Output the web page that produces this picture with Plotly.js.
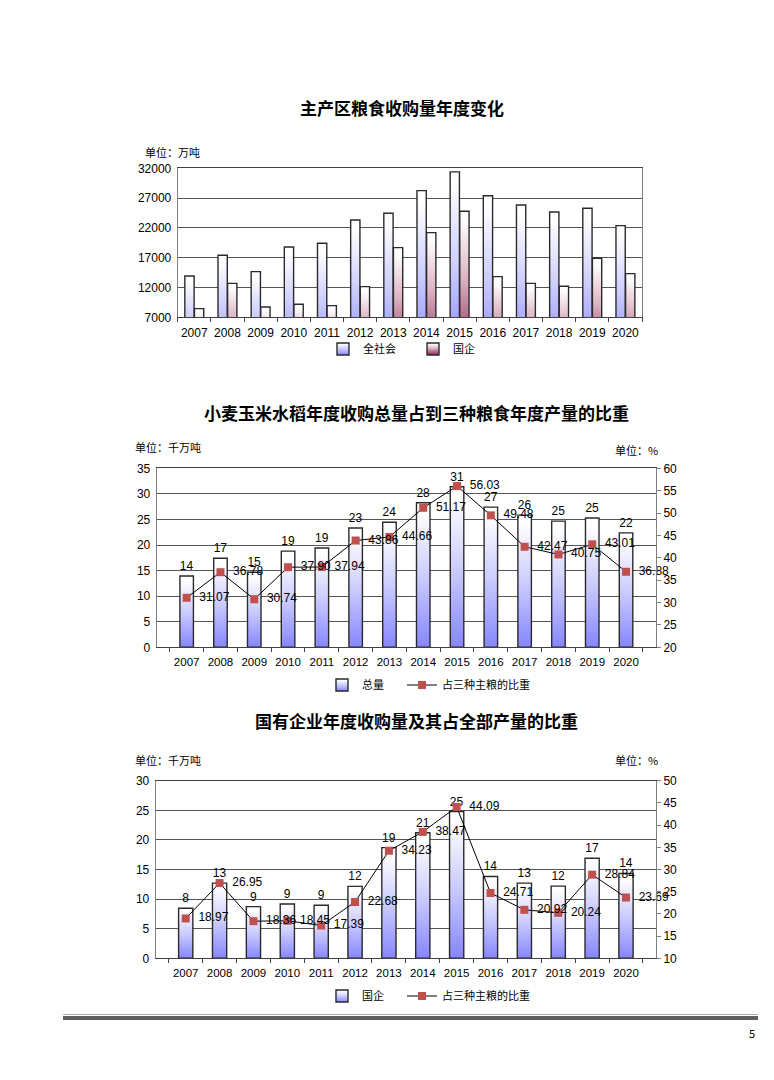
<!DOCTYPE html>
<html><head><meta charset="utf-8">
<script src="https://cdn.plot.ly/plotly-3.0.1.min.js"></script>
<style>html,body{margin:0;padding:0;background:#fff;}#chart{width:774px;height:1080px;}</style>
</head><body><div id="chart"></div>
<script>
// ---- data ----
const years = ['2007','2008','2009','2010','2011','2012','2013','2014','2015','2016','2017','2018','2019','2020'];
// 主产区粮食收购量 (万吨)
const totalAll   = [13940,17400,14660,18800,19420,23330,24450,28250,31400,27400,25850,24670,25290,22380];
const stateOwned = [8450,12700,8730,9180,8960,12150,18690,21210,24790,13820,12700,12200,16900,14330];
// 占三种主粮的比重 (%)
const totalShare = [31.07,36.78,30.74,37.90,37.94,43.86,44.66,51.17,56.03,49.48,42.47,40.75,43.01,36.88];
const stateShare = [18.97,26.95,18.36,18.45,17.39,22.68,34.23,38.47,44.09,24.71,20.92,20.24,28.84,23.69];

const W = 774, H = 1080;
const X = p => p / W, Y = p => 1 - p / H;
const NUM = 'Liberation Sans, Arial, Noto Sans CJK SC, sans-serif';
const CJK = 'Noto Sans CJK SC, Liberation Sans, sans-serif';
const toK = a => a.map(v => v / 1000);
const PAD = '\u00a0\u00a0';

const barLine = {color: '#2a2a2a', width: 1.4};
const data = [
  {type:'bar', x: years, y: totalAll, name:'全社会', xaxis:'x', yaxis:'y', legend:'legend',
   offset:-0.285, width:0.28, marker:{color:'#9a9aff', line: barLine}, hoverinfo:'skip'},
  {type:'bar', x: years, y: stateOwned, name:'国企', xaxis:'x', yaxis:'y', legend:'legend5',
   offset:0.005, width:0.28, marker:{color:'#963060', line: barLine}, hoverinfo:'skip'},
  {type:'bar', x: years, y: toK(totalAll), name:'总量', xaxis:'x2', yaxis:'y2', legend:'legend2',
   width:0.4, marker:{color:'#9a9aff', line: barLine}, texttemplate:'%{y:.0f}', textposition:'outside',
   constraintext:'none', cliponaxis:false, textfont:{family:NUM, size:12, color:'#000'}, hoverinfo:'skip'},
  {type:'scatter', x: years, y: totalShare, name:'占三种主粮的比重', xaxis:'x2', yaxis:'y3', legend:'legend4',
   mode:'lines+markers+text', text: totalShare.map(v => PAD + v.toFixed(2)), textposition:'middle right',
   textfont:{family:NUM, size:12, color:'#000'}, cliponaxis:false,
   line:{color:'#000', width:1}, marker:{symbol:'square', size:8, color:'#c0504d'}, hoverinfo:'skip'},
  {type:'bar', x: years, y: toK(stateOwned), name:'国企', xaxis:'x3', yaxis:'y4', legend:'legend3',
   width:0.42, marker:{color:'#9a9aff', line: barLine}, texttemplate:'%{y:.0f}', textposition:'outside',
   constraintext:'none', cliponaxis:false, textfont:{family:NUM, size:12, color:'#000'}, hoverinfo:'skip'},
  {type:'scatter', x: years, y: stateShare, name:'占三种主粮的比重', xaxis:'x3', yaxis:'y5', legend:'legend6',
   mode:'lines+markers+text', text: stateShare.map(v => PAD + v.toFixed(2)), textposition:'middle right',
   textfont:{family:NUM, size:12, color:'#000'}, cliponaxis:false,
   line:{color:'#000', width:1}, marker:{symbol:'square', size:8, color:'#c0504d'}, hoverinfo:'skip'}
];

function xax(d0, d1, anchor, fs) {
  return {domain:[X(d0), X(d1)], anchor: anchor, type:'category', showgrid:false, showline:true,
    linecolor:'#404040', linewidth:1, mirror:true, ticks:'outside', ticklen:4, tickcolor:'#404040',
    tickson:'boundaries', tickangle:0, ticklabelstandoff:4, tickfont:{family:NUM, size:fs, color:'#000'}, fixedrange:true, zeroline:false};
}
function yax(top, bot, anchor, range, dtick, mirror) {
  return {domain:[Y(bot), Y(top)], anchor: anchor, range: range, dtick: dtick, tick0: range[0],
    showgrid:true, gridcolor:'#555', gridwidth:1, showline:true, linecolor:'#808080', mirror: !!mirror,
    tickformat:'d', exponentformat:'none', separatethousands:false,
    ticks:'', tickfont:{family:NUM, size:12, color:'#000'}, zeroline:false, fixedrange:true, ticklabelstandoff:3};
}
function yright(top, bot, overlay, anchor, range) {
  return {domain:[Y(bot), Y(top)], overlaying: overlay, anchor: anchor, side:'right', range: range, dtick:5, tick0: range[0],
    showgrid:false, showline:true, linecolor:'#808080', ticks:'outside', ticklen:4, tickcolor:'#808080',
    tickfont:{family:NUM, size:12, color:'#000'}, zeroline:false, fixedrange:true};
}

const ann = (x, y, text, size, xanchor, bold) => ({xref:'paper', yref:'paper', x: X(x), y: Y(y), text: bold ? '<b>'+text+'</b>' : text,
  showarrow:false, xanchor: xanchor, yanchor:'middle', font:{family:CJK, size:size, color:'#000'}});

const legendBase = {orientation:'h', xanchor:'left', yanchor:'middle', font:{family:CJK, size:11, color:'#000'},
  bgcolor:'rgba(0,0,0,0)', itemwidth:30, tracegroupgap:0};
const lg = (x, y) => Object.assign({}, legendBase, {x: X(x), y: Y(y)});

const layout = {
  width: W, height: H, margin:{l:0, r:0, t:0, b:0, pad:0},
  paper_bgcolor:'#fff', plot_bgcolor:'#fff', barmode:'group', showlegend:true,
  xaxis: xax(177.7, 642, 'y', 12),
  yaxis: yax(168.3, 317.3, 'x', [7000, 32000], 5000, true),
  xaxis2: xax(156.7, 656, 'y2', 11.5),
  yaxis2: yax(468.3, 647.3, 'x2', [0, 35], 5),
  yaxis3: yright(468.3, 647.3, 'y2', 'x2', [20, 60]),
  xaxis3: xax(155.7, 656, 'y4', 11.5),
  yaxis4: yax(780.7, 958.3, 'x3', [0, 30], 5),
  yaxis5: yright(780.7, 958.3, 'y4', 'x3', [10, 50]),
  legend: lg(323, 349),
  legend5: lg(413, 349),
  legend2: lg(322, 685),
  legend4: lg(402, 685),
  legend3: lg(322, 996),
  legend6: lg(402, 996),
  annotations: [
    ann(402, 107, '主产区粮食收购量年度变化', 17, 'center', true),
    ann(143, 152, '单位：万吨', 11, 'left'),
    ann(416, 412, '小麦玉米水稻年度收购总量占到三种粮食年度产量的比重', 17, 'center', true),
    ann(133, 447, '单位：千万吨', 11, 'left'),
    ann(660, 450, '单位：%', 11, 'right'),
    ann(416, 720, '国有企业年度收购量及其占全部产量的比重', 17, 'center', true),
    ann(133, 760, '单位：千万吨', 11, 'left'),
    ann(660, 760, '单位：%', 11, 'right'),
    ann(752, 1033, '5', 11, 'center')
  ],
  shapes: [
    {type:'line', xref:'paper', yref:'paper', x0: X(63), x1: X(758), y0: Y(1014.5), y1: Y(1014.5), line:{color:'#b0b0b0', width:1}},
    {type:'line', xref:'paper', yref:'paper', x0: X(63), x1: X(758), y0: Y(1018), y1: Y(1018), line:{color:'#606060', width:4}}
  ]
};

Plotly.newPlot('chart', data, layout, {staticPlot:true, displayModeBar:false}).then(gd => {
  try {
    const svg = gd.querySelector('.main-svg');
    let defs = svg.querySelector('defs');
    const NS = 'http://www.w3.org/2000/svg';
    function grad(id, c, mid) {
      const g = document.createElementNS(NS, 'linearGradient');
      g.setAttribute('id', id); g.setAttribute('x1','0'); g.setAttribute('y1','0'); g.setAttribute('x2','0'); g.setAttribute('y2','1');
      [['0','#ffffff'],['0.06','#ffffff'],[String(mid[0]), mid[1]],['1', c]].forEach(([o, col]) => {
        const s = document.createElementNS(NS, 'stop'); s.setAttribute('offset', o); s.setAttribute('stop-color', col); g.appendChild(s);
      });
      defs.appendChild(g);
    }
    grad('gBlue', '#8686ff', [0.5, '#cdcdff']); grad('gRed', '#8a1f50', [0.45, '#dcb4c4']);
    const fillFor = idx => idx === 1 ? 'url(#gRed)' : 'url(#gBlue)';
    gd.querySelectorAll('.barlayer .trace').forEach(el => {
      const cd = el.__data__; const t = cd && cd[0] && cd[0].trace;
      if (!t) return;
      el.querySelectorAll('.point path').forEach(p => { p.style.fill = fillFor(t.index); });
    });
    svg.parentNode.querySelectorAll('.traces').forEach(el => {
      let d = el.__data__; let t = d && d[0] && (d[0].trace || (d[0][0] && d[0][0].trace));
      if (!t || t.type !== 'bar') return;
      el.querySelectorAll('path.legendbar, .legendpoints path').forEach(p => { p.style.fill = fillFor(t.index); });
    });
  } catch (e) { console.log(e); }
});
</script>
</body></html>
